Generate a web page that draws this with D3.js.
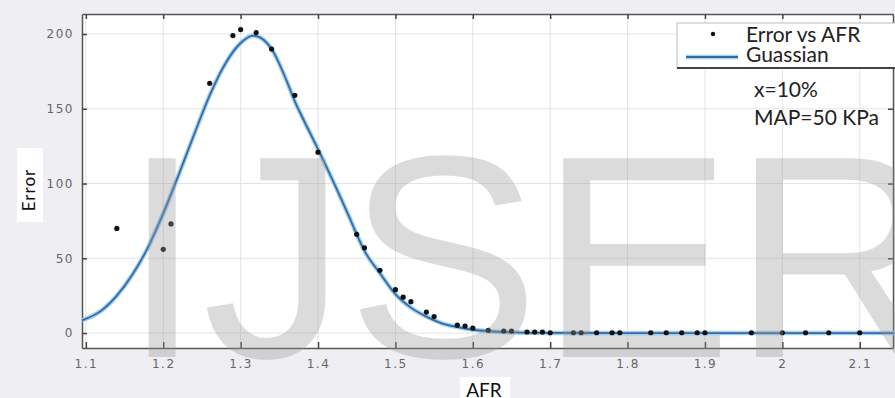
<!DOCTYPE html>
<html>
<head>
<meta charset="utf-8">
<script src="https://cdn.jsdelivr.net/npm/d3@7"></script>
<style>
  html, body { margin: 0; padding: 0; background: #efeff3; }
  svg { display: block; }
</style>
</head>
<body>
<div id="chart"></div>
<script>
// measured points (AFR, Error)
var afr = [1.14, 1.20, 1.21, 1.26, 1.29, 1.30, 1.32, 1.34, 1.37, 1.40,
  1.45, 1.46, 1.48, 1.50, 1.51, 1.52, 1.54, 1.55, 1.58, 1.59, 1.60,
  1.62, 1.64, 1.65, 1.67, 1.68, 1.69, 1.70, 1.73, 1.74, 1.76, 1.78, 1.79,
  1.83, 1.85, 1.87, 1.89, 1.90, 1.96, 2.00, 2.03, 2.06, 2.10];
var err = [70, 56, 73, 167, 199, 203, 201, 190, 159, 121,
  66, 57, 42, 29, 24, 21, 14, 11, 5.3, 4.7, 3.3,
  1.8, 1.3, 1.3, 0.7, 0.7, 0.7, 0.2, 0.2, 0.2, 0.2, 0.2, 0.2,
  0.2, 0.2, 0.2, 0.2, 0.2, 0.2, 0.2, 0.2, 0.2, 0.2];

// fitted curve
var fitX = [1.095, 1.12, 1.14, 1.16, 1.18, 1.20, 1.22, 1.24, 1.26, 1.28, 1.30,
  1.316, 1.33, 1.34, 1.36, 1.37, 1.38, 1.40, 1.42, 1.44, 1.45, 1.46, 1.48,
  1.50, 1.52, 1.54, 1.56, 1.58, 1.60, 1.62, 1.65, 1.70, 1.80, 2.145];
var fitY = [8.5, 15, 25, 39, 57, 80, 106, 133, 159, 180, 194,
  199, 196, 190, 168, 155, 144, 123, 101, 78, 66, 55, 40,
  26, 17, 11, 6.5, 4, 2.2, 1.2, 0.5, 0.1, 0, 0];

var xTicks = [1.1, 1.2, 1.3, 1.4, 1.5, 1.6, 1.7, 1.8, 1.9, 2.0, 2.1];
var yTicks = [0, 50, 100, 150, 200];

var W = 895, H = 398;
var pLeft = 82, pRight = 893, pTop = 14, pBottom = 348;

var svg = d3.select('#chart').append('svg')
  .attr('width', W).attr('height', H);

var x = d3.scaleLinear().domain([1.095, 2.143]).range([pLeft, pRight]);
var y = d3.scaleLinear().domain([-10, 213.4]).range([pBottom, pTop]);

svg.append('rect')
  .attr('x', pLeft).attr('y', pTop)
  .attr('width', pRight - pLeft).attr('height', pBottom - pTop)
  .attr('fill', '#fff');

// grid
svg.append('g').selectAll('line').data(xTicks).join('line')
  .attr('x1', d => x(d)).attr('x2', d => x(d))
  .attr('y1', pTop).attr('y2', pBottom)
  .attr('stroke', '#e4e4e4').attr('stroke-width', 1);
svg.append('g').selectAll('line').data(yTicks).join('line')
  .attr('x1', pLeft).attr('x2', pRight)
  .attr('y1', d => y(d)).attr('y2', d => y(d))
  .attr('stroke', '#e4e4e4').attr('stroke-width', 1);

var fmt = d => String(+d.toFixed(1));

// axes
var xb = svg.append('g').attr('transform', 'translate(0,' + pBottom + ')')
  .call(d3.axisBottom(x).tickValues(xTicks).tickSizeInner(-6).tickSizeOuter(0).tickPadding(11).tickFormat(fmt));
var xt = svg.append('g').attr('transform', 'translate(0,' + pTop + ')')
  .call(d3.axisTop(x).tickValues(xTicks).tickSizeInner(-5).tickSizeOuter(0).tickFormat(''));
var yl = svg.append('g').attr('transform', 'translate(' + pLeft + ',0)')
  .call(d3.axisLeft(y).tickValues(yTicks).tickSizeInner(-5).tickSizeOuter(0).tickPadding(8));
var yr = svg.append('g').attr('transform', 'translate(' + pRight + ',0)')
  .call(d3.axisRight(y).tickValues(yTicks).tickSizeInner(-5).tickSizeOuter(0).tickFormat(''));

[xb, xt, yl, yr].forEach(function (g) {
  g.select('.domain').attr('stroke', '#555').attr('stroke-width', 1.5);
  g.selectAll('.tick line').attr('stroke', '#444').attr('stroke-width', 1.5);
  g.selectAll('text')
    .attr('fill', '#666')
    .style('font-family', 'DejaVu Sans')
    .style('font-size', '12px')
    .style('letter-spacing', '1.5px');
});

// curve
var line = d3.line().x(d => x(d[0])).y(d => y(d[1])).curve(d3.curveMonotoneX);
var fit = d3.zip(fitX, fitY);
svg.append('path').datum(fit).attr('d', line)
  .attr('fill', 'none').attr('stroke', '#a9cdec').attr('stroke-width', 4.5);
svg.append('path').datum(fit).attr('d', line)
  .attr('fill', 'none').attr('stroke', '#2e6ea8').attr('stroke-width', 1.8);

// points
svg.append('g').selectAll('circle').data(d3.zip(afr, err)).join('circle')
  .attr('cx', d => x(d[0])).attr('cy', d => y(d[1]))
  .attr('r', 2.6).attr('fill', '#111');

// legend
var lg = svg.append('g');
lg.append('rect').attr('x', 677).attr('y', 23).attr('width', 230).attr('height', 45)
  .attr('fill', '#fff').attr('stroke', '#bbb').attr('stroke-width', 1);
lg.append('line').attr('x1', 677).attr('x2', 895).attr('y1', 68).attr('y2', 68)
  .attr('stroke', '#444').attr('stroke-width', 2);
lg.append('circle').attr('cx', 713).attr('cy', 34).attr('r', 2.2).attr('fill', '#111');
lg.append('line').attr('x1', 686).attr('x2', 738).attr('y1', 57).attr('y2', 57)
  .attr('stroke', '#a9cdec').attr('stroke-width', 4.5);
lg.append('line').attr('x1', 686).attr('x2', 738).attr('y1', 57).attr('y2', 57)
  .attr('stroke', '#2e6ea8').attr('stroke-width', 1.8);
var lt = [['Error vs AFR', 42], ['Guassian', 62]];
lg.selectAll('text').data(lt).join('text')
  .attr('x', 746).attr('y', d => d[1]).text(d => d[0])
  .style('font-family', 'Lato').style('font-size', '21px').attr('fill', '#222');

// annotation
var notes = [['x=10%', 97], ['MAP=50 KPa', 125]];
svg.append('g').selectAll('text').data(notes).join('text')
  .attr('x', 754).attr('y', d => d[1]).text(d => d[0])
  .style('font-family', 'Lato').style('font-size', '21px').attr('fill', '#222');

// axis titles
svg.append('rect').attr('x', 17).attr('y', 148).attr('width', 26).attr('height', 74).attr('fill', '#fff');
svg.append('text')
  .attr('transform', 'translate(35,190) rotate(-90)')
  .attr('text-anchor', 'middle').text('Error')
  .style('font-family', 'Lato').style('font-size', '17px')
  .style('letter-spacing', '1px').attr('fill', '#111');
svg.append('rect').attr('x', 460).attr('y', 377).attr('width', 50).attr('height', 21).attr('fill', '#fff');
svg.append('text')
  .attr('x', 484).attr('y', 397).attr('text-anchor', 'middle').text('AFR')
  .style('font-family', 'Lato').style('font-size', '19px').attr('fill', '#111');

// watermark
svg.append('text')
  .attr('x', 122).attr('y', 357).text('IJSER')
  .style('font-family', 'Liberation Sans').style('font-size', '289px')
  .attr('fill', '#999').attr('fill-opacity', 0.35);
</script>
</body>
</html>
